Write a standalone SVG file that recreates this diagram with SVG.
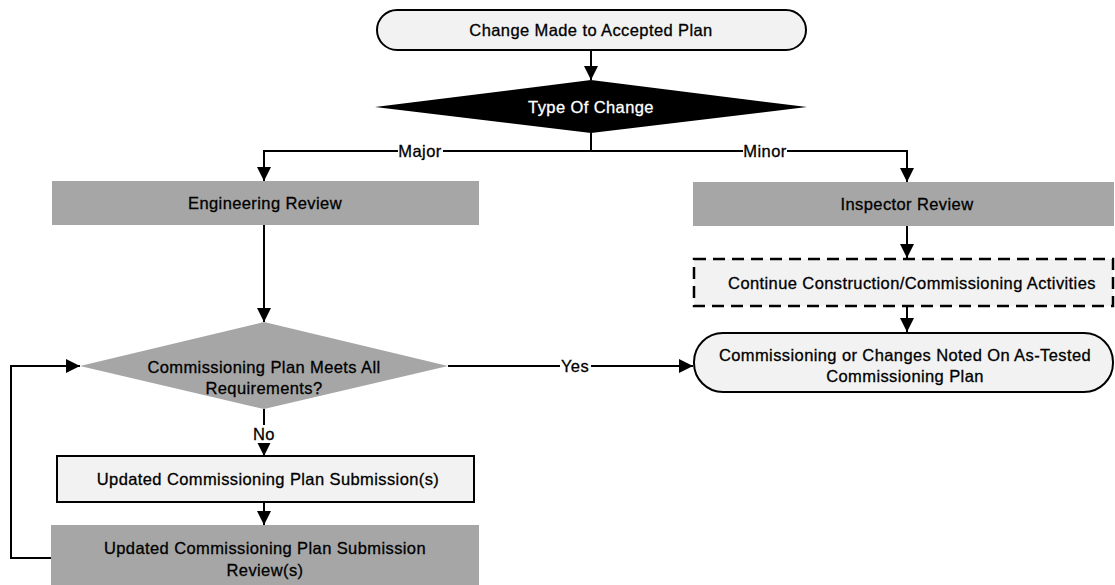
<svg xmlns="http://www.w3.org/2000/svg" width="1115" height="585" viewBox="0 0 1115 585">
  <defs>
    <marker id="arrow" viewBox="0 0 14 14" refX="14" refY="7" markerWidth="14" markerHeight="14" markerUnits="userSpaceOnUse" orient="auto">
      <path d="M0,0 L14,7 L0,14 Z" fill="#000"/>
    </marker>
  </defs>
  <style>
    text { font-family: "Liberation Sans", Arial, sans-serif; font-size: 16.5px; letter-spacing: 0.4px; fill: #000; stroke: #000; stroke-width: 0.3px; text-anchor: middle; dominant-baseline: central; }
    .conn { fill: none; stroke: #000; stroke-width: 2; }
    .conn-arrow { fill: none; stroke: #000; stroke-width: 2; marker-end: url(#arrow); }
    .gray { fill: #a6a6a6; stroke: none; }
    .light { fill: #f2f2f2; stroke: #000; stroke-width: 2; }
    .lblbg { fill: #fff; }
    .inv { fill: #fff; stroke: #fff; }
  </style>

  <!-- connectors -->
  <g id="connectors">
    <line class="conn-arrow" x1="591" y1="50" x2="591" y2="80"/>
    <polyline class="conn" points="591,133 591,151"/>
    <polyline class="conn-arrow" points="591,151 264,151 264,181"/>
    <polyline class="conn-arrow" points="591,151 907,151 907,182"/>
    <line class="conn-arrow" x1="264" y1="225" x2="264" y2="322"/>
    <line class="conn-arrow" x1="907" y1="226" x2="907" y2="258"/>
    <line class="conn-arrow" x1="907" y1="306" x2="907" y2="332"/>
    <line class="conn-arrow" x1="448" y1="366" x2="693" y2="366"/>
    <line class="conn-arrow" x1="264" y1="409" x2="264" y2="456"/>
    <line class="conn-arrow" x1="264" y1="502" x2="264" y2="525"/>
    <polyline class="conn-arrow" points="51,558 11,558 11,366 80,366"/>
    <!-- branch labels -->
    <rect class="lblbg" x="398" y="142" width="45" height="18"/>
    <text x="420" y="151">Major</text>
    <rect class="lblbg" x="743" y="142" width="44" height="18"/>
    <text x="765" y="151">Minor</text>
    <rect class="lblbg" x="560" y="357" width="31" height="18"/>
    <text x="575" y="366">Yes</text>
    <rect class="lblbg" x="252" y="425" width="24" height="18"/>
    <text x="264" y="434">No</text>
  </g>

  <g id="start">
    <rect class="light" x="377" y="10" width="429" height="40" rx="20" ry="20"/>
    <text x="591" y="30">Change Made to Accepted Plan</text>
  </g>

  <g id="type-of-change">
    <polygon points="591,80 807,107 591,133 375,107" fill="#000"/>
    <text class="inv" x="591" y="107">Type Of Change</text>
  </g>

  <g id="engineering-review">
    <rect class="gray" x="52" y="181" width="427" height="44"/>
    <text x="265" y="203">Engineering Review</text>
  </g>

  <g id="inspector-review">
    <rect class="gray" x="693" y="182" width="421" height="44"/>
    <text x="907" y="204">Inspector Review</text>
  </g>

  <g id="continue-activities">
    <rect x="694" y="259" width="419" height="47" fill="#f2f2f2" stroke="#000" stroke-width="2.5" stroke-dasharray="12,7"/>
    <text x="912" y="283">Continue Construction/Commissioning Activities</text>
  </g>

  <g id="as-tested">
    <rect class="light" x="694" y="333" width="419" height="59" rx="29" ry="29"/>
    <text x="905" y="355">Commissioning or Changes Noted On As-Tested</text>
    <text x="905" y="376">Commissioning Plan</text>
  </g>

  <g id="plan-meets-requirements">
    <polygon points="264,322 448,366 264,409 80,366" fill="#a6a6a6"/>
    <text x="264" y="367">Commissioning Plan Meets All</text>
    <text x="264" y="388">Requirements?</text>
  </g>

  <g id="updated-submission">
    <rect class="light" x="57" y="456" width="417" height="46"/>
    <text x="268" y="479">Updated Commissioning Plan Submission(s)</text>
  </g>

  <g id="submission-review">
    <rect class="gray" x="51" y="525" width="428" height="60"/>
    <text x="265" y="548">Updated Commissioning Plan Submission</text>
    <text x="265" y="570">Review(s)</text>
  </g>
</svg>
